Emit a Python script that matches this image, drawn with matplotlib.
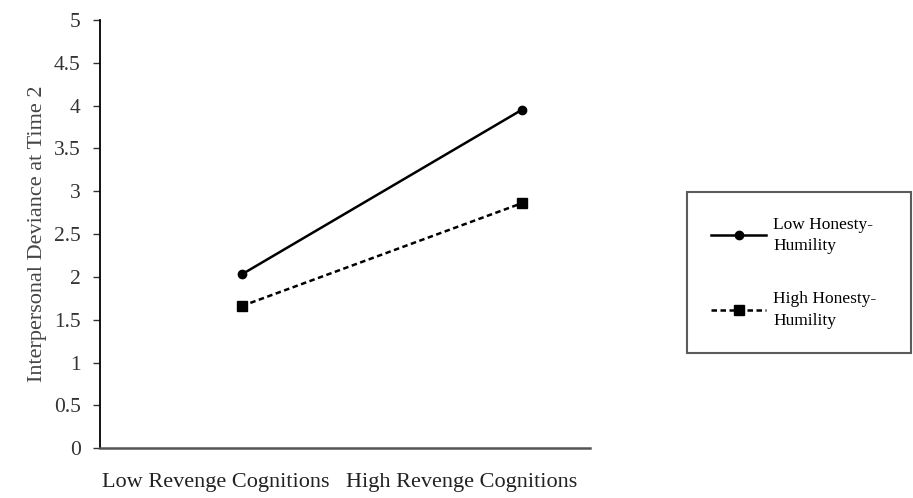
import matplotlib
matplotlib.use("Agg")
import matplotlib.pyplot as plt

categories=["Low Revenge Cognitions","High Revenge Cognitions"]
series_names=["Low Honesty-\nHumility","High Honesty-\nHumility"]
low_hh=[2.03,3.95]
high_hh=[1.66,2.86]
yticks=[0,0.5,1,1.5,2,2.5,3,3.5,4,4.5,5]

plt.rcParams['font.family']=['Liberation Serif','DejaVu Serif']

fig=plt.figure(figsize=(9.13,4.98),dpi=100)
ax=fig.add_axes([0.1095,0.100,0.5365,0.860])

xpos=[0,1]
l1,=ax.plot(xpos,low_hh,color="black",lw=1.8,marker="o",ms=6,label=series_names[0])
l2,=ax.plot(xpos,high_hh,color="black",lw=1.8,ls=(0,(2.2,1.4)),marker="s",ms=7,label=series_names[1])

ax.set_xlim(-0.507,1.243)
ax.set_ylim(0,5)
ax.set_yticks(yticks)
ax.set_yticklabels(["%g"%t for t in yticks],fontsize=15.5,color="#333333")
ax.set_xticks([-0.093,0.786])
ax.set_xticklabels(categories,fontsize=16,color="#222222")
ax.tick_params(axis="x",length=0,pad=18)
ax.tick_params(axis="y",length=5,width=1,pad=9,direction="out",color="#333333")
ax.set_ylabel("Interpersonal Deviance at Time 2",fontsize=16,color="#444444",labelpad=5)
for s in ["top","right"]:
	ax.spines[s].set_visible(False)
ax.spines["left"].set_linewidth(1.3)
ax.spines["bottom"].set_linewidth(1.8)
ax.spines["bottom"].set_color("#555555")

leg=fig.legend(handles=[l1,l2],loc="center left",bbox_to_anchor=(0.752,0.297,0.246,0.311),
	mode="expand",borderaxespad=0,fontsize=12.5,handlelength=3.2,handletextpad=0.4,labelspacing=2.15,
	borderpad=1.4,fancybox=False,frameon=True)
for t in leg.get_texts():
	t.set_linespacing(1.45)
leg.get_frame().set_edgecolor("#333333")
leg.get_frame().set_linewidth(1.5)

fig.savefig("out.png",dpi=100)
